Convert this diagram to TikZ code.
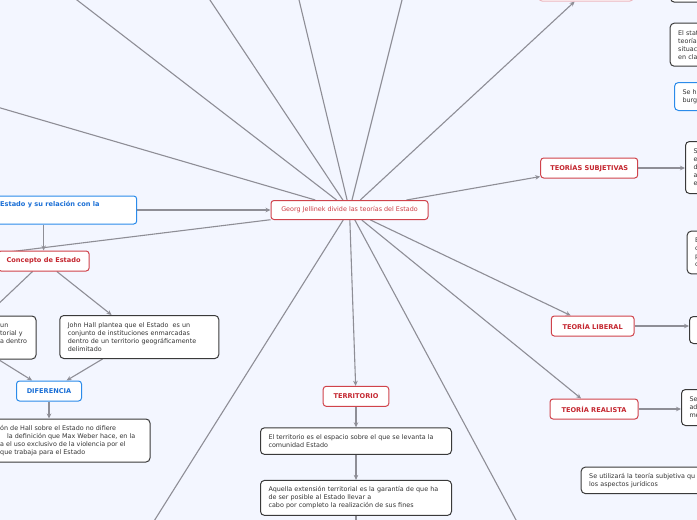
\documentclass[tikz,border=0pt]{standalone}
\usepackage{fontspec}
\setmainfont{DejaVu Sans}
\usepackage{tikz}
\usetikzlibrary{arrows.meta,positioning,backgrounds}
\usepackage{xcolor}
\definecolor{fondo}{HTML}{F3F6FF}
\definecolor{linea}{HTML}{8E8E96}
\definecolor{rojo}{HTML}{C4262F}
\definecolor{rojoborde}{HTML}{D0434B}
\definecolor{rojoclaro}{HTML}{CC3C44}
\definecolor{azul}{HTML}{2B8BEA}
\definecolor{azultxt}{HTML}{1A6FD6}
\definecolor{borde}{HTML}{3A3A3A}
\definecolor{texto}{HTML}{333333}
\definecolor{rosa}{HTML}{EDB5BD}
\newcommand{\letra}{\fontsize{6.4}{8}\selectfont}
\newcommand{\letrab}{\fontsize{6.6}{8}\selectfont\bfseries}

\begin{document}
\begin{tikzpicture}[
  x=1pt, y=-1pt,
  font=\letra,
  caja/.style={draw, fill=white, rounded corners=3pt, line width=1pt, inner sep=0pt},
  idea/.style={caja, draw=rojoborde, text=rojoclaro, minimum height=19pt},
  tema/.style={caja, draw=rojoborde, text=rojo, font=\letrab, minimum height=20pt},
  azul/.style={caja, draw=azul, text=azultxt, font=\letrab, minimum height=20pt},
  nota/.style={caja, draw=borde, text=texto, rounded corners=4pt, align=left, inner xsep=8pt, anchor=north west},
  notaazul/.style={nota, draw=azul},
  frag/.style={anchor=west, align=left, inner sep=0pt, text=texto},
  flecha/.style={-{Stealth[length=5pt,width=4.5pt]}, draw=linea, line width=1.1pt},
  rama/.style={draw=linea, line width=1.1pt}
]
\useasboundingbox (0,0) rectangle (697,520);
\clip (0,0) rectangle (697,520);
\node[idea, minimum width=157pt] (jellinek) at (349.5,210) {Georg Jellinek divide las teorías del Estado};
\node[caja, draw=azul, minimum width=240pt, minimum height=28pt] (estado) at (16.7,210) {};
\node[frag, font=\letrab, text=azultxt] (estadotxt) at (0,205) {Estado y su relación con la};
\node[tema, minimum width=91pt] (concepto) at (43.6,261) {Concepto de Estado};
\node[caja, draw=borde, rounded corners=4pt, minimum width=146pt, minimum height=43pt] (izq) at (-37,337.5) {};
\node[frag] (izqtxt) at (0,337.5) {un\\torial y\\a dentro\\\mbox{}};
\node[nota, text width=143pt, minimum height=43pt] (hall) at (59.3,315) {John Hall plantea que el Estado\ \ es un\\conjunto de instituciones enmarcadas\\dentro de un territorio geográficamente\\delimitado};
\node[azul, minimum width=65pt] (diferencia) at (49,391) {DIFERENCIA};
\node[caja, draw=borde, rounded corners=4pt, minimum width=260pt, minimum height=43pt] (weber) at (20,440.5) {};
\node[frag] (webertxt) at (0,440.5) {ón de Hall sobre el Estado no difiere\\\hspace*{7pt}la definición que Max Weber hace, en la\\a el uso exclusivo de la violencia por el\\que trabaja para el Estado};
\node[tema, minimum width=65.6pt] (territorio) at (356,396.3) {TERRITORIO};
\node[nota, text width=175pt, minimum height=26.6pt, below=20.5pt of territorio] (espacio) {El territorio es el espacio sobre el que se levanta la\\comunidad Estado};
\node[nota, anchor=north, text width=175pt, minimum height=35pt, below=25pt of espacio] (fines) {Aquella extensión territorial es la garantía de que ha\\de ser posible al Estado llevar a\\cabo por completo la realización de sus fines};
\node[caja, draw=rosa, minimum width=94pt, minimum height=20pt] (arriba) at (586,-9) {};
\node[tema, minimum width=97pt] (subjetivas) at (589.2,168) {TEORÍAS SUBJETIVAS};
\node[tema, minimum width=82.7pt] (liberal) at (592.7,326) {TEORÍA LIBERAL};
\node[tema, minimum width=88pt] (realista) at (594,409) {TEORÍA REALISTA};
\node[nota, text width=84pt, minimum height=31.7pt] (sup) at (670,-30) {};
\node[nota, text width=84pt, minimum height=43pt] (stat) at (669.7,22.7) {El stat\\teoría\\situac\\en cla};
\node[notaazul, text width=84pt, minimum height=28pt] (burg) at (674,82) {Se h\\burg};
\node[nota, text width=84pt, minimum height=52pt] (subjR) at (685,141) {S\\e\\d\\a\\e};
\node[nota, text width=84pt, minimum height=42.6pt] (ecpc) at (686.7,230.7) {E\\c\\p\\c};
\node[nota, text width=84pt, minimum height=27pt] (liberalR) at (689,316) {};
\node[nota, text width=84pt, minimum height=36pt] (realistaR) at (681,389) {Se\\ad\\me};
\node[nota, text width=140pt, minimum height=26.3pt] (juridicos) at (580.7,466.7) {Se utilizará la teoría subjetiva qu\\los aspectos jurídicos};
\coordinate (ramaA) at (-20,102);
\coordinate (ramaB) at (68.8,-6.3);
\coordinate (ramaC) at (206,-6);
\coordinate (ramaD) at (297.6,-6);
\coordinate (ramaE) at (403.5,-6);
\coordinate (ramaF) at (-20,255.5);
\coordinate (ramaG) at (150.3,527);
\coordinate (ramaH) at (519.8,527);
\coordinate (sigue) at (356,530);
\begin{scope}[on background layer]
\clip (0,0) rectangle (697,520);
\fill[fondo] (0,0) rectangle (697,520);
\foreach \r in {A,B,C,D,E,F,G,H}
  \draw[rama] (jellinek) -- (rama\r);
\draw[flecha] (estado) -- (jellinek);
\draw[flecha] (estado.south -| concepto) -- (concepto);
\draw[flecha] (concepto) -- (izq);
\draw[flecha] (concepto) -- (hall);
\draw[flecha] (izq) -- (diferencia);
\draw[flecha] (hall) -- (diferencia);
\draw[flecha] (diferencia) -- (diferencia |- weber.north);
\draw[flecha] (jellinek) -- (arriba);
\draw[flecha] (jellinek) -- (subjetivas);
\draw[flecha] (jellinek) -- (liberal);
\draw[flecha] (jellinek) -- (realista);
\draw[flecha] (jellinek) -- (territorio);
\draw[flecha] (subjetivas) -- (subjetivas -| subjR.west);
\draw[flecha] (liberal) -- (liberal -| liberalR.west);
\draw[flecha] (realista) -- (realista -| realistaR.west);
\draw[flecha] (territorio) -- (espacio);
\draw[flecha] (espacio) -- (fines);
\draw[flecha] (fines) -- (sigue);
\end{scope}
\end{tikzpicture}
\end{document}
